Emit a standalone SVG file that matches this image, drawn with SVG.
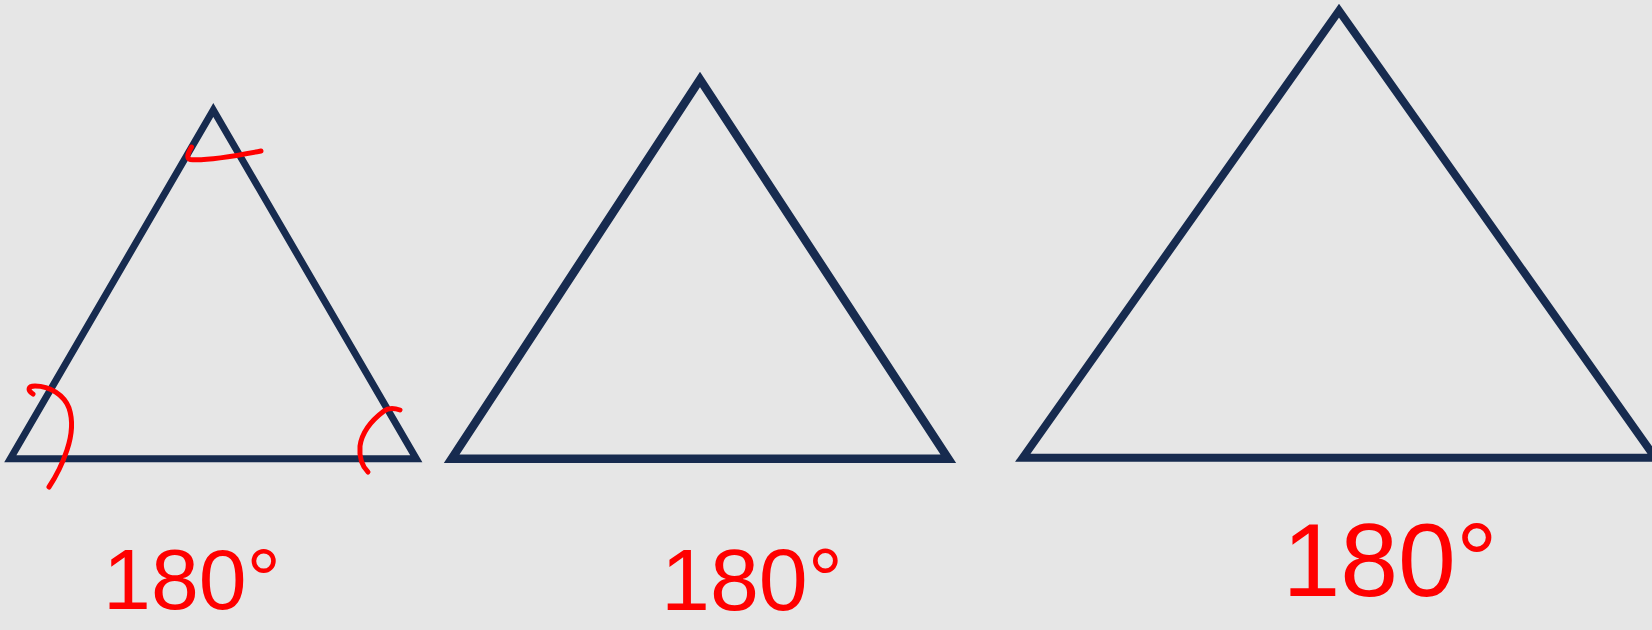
<svg xmlns="http://www.w3.org/2000/svg" width="1652" height="630" viewBox="0 0 1652 630">
<style>
.tri{fill:none;stroke:#172b4f;stroke-linejoin:miter;stroke-miterlimit:10}
.mark{fill:none;stroke:#ff0000;stroke-width:5;stroke-linecap:round;stroke-linejoin:round}
.lbl{fill:#ff0000;font-family:"Liberation Sans",Arial,sans-serif;text-anchor:middle}
</style>
<rect width="1652" height="630" fill="#e6e6e6"/>
<g id="triangle1">
<polygon class="tri" stroke-width="7" points="213.3,110 10.3,458.7 416.3,458.7"/>
<path class="mark" d="M191.5,147 C188,153 186,158 190,159.5 C205,161 230,157 261,151"/>
<path class="mark" d="M33,394 C27,390 28,386 35,386 C50,386 64,395 69,408 C73,420 72,435 67,450 C63,462 57,475 49,487"/>
<path class="mark" d="M400,410 C394,408 388,408 384,411 C372,420 362,432 360,446 C359,458 362,466 368,472"/>
<text class="lbl" x="192" y="609" font-size="86">180°</text>
</g>
<g id="triangle2">
<polygon class="tri" stroke-width="8.5" points="700,79.5 451.7,458.7 948.3,458.7"/>
<text class="lbl" x="752" y="610" font-size="88">180°</text>
</g>
<g id="triangle3">
<polygon class="tri" stroke-width="8" points="1339,10.7 1022.8,457.7 1655.2,457.7"/>
<text class="lbl" x="1390" y="596" font-size="104">180°</text>
</g>
<g id="connectors"/>
</svg>
